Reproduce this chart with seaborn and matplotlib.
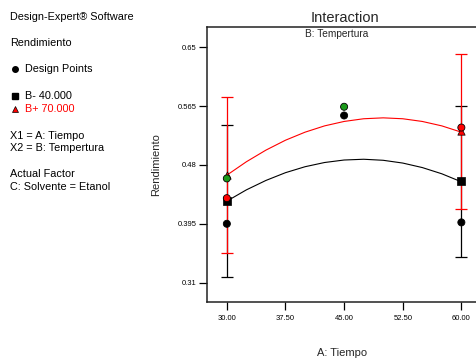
import numpy as np
import pandas as pd
import matplotlib
matplotlib.use("Agg")
import matplotlib.pyplot as plt
import seaborn as sns

# -----------------------------------
# Data
# -----------------------------------
x_ticks = [30.00, 37.50, 45.00, 52.50, 60.00]
y_ticks = [0.31, 0.395, 0.48, 0.565, 0.65]

# model lines for B- (40) and B+ (70)
curve_x = [30.0, 32.5, 35.0, 37.5, 40.0, 42.5, 45.0, 47.5, 50.0, 52.5, 55.0, 57.5, 60.0]
curve_low = [0.4277, 0.4440, 0.4576, 0.4688, 0.4774, 0.4835, 0.4871,
             0.4882, 0.4867, 0.4827, 0.4762, 0.4672, 0.4556]
curve_high = [0.4652, 0.4846, 0.5014, 0.5157, 0.5273, 0.5364, 0.5428,
              0.5467, 0.5480, 0.5467, 0.5428, 0.5364, 0.5273]

# LSD bars at the ends
bar_x = [30.0, 60.0]
low_mean = [0.4277, 0.4566]
low_lo = [0.3178, 0.3466]
low_hi = [0.5376, 0.5650]
high_mean = [0.4652, 0.5284]
high_lo = [0.3528, 0.4158]
high_hi = [0.5784, 0.6408]

# design points
pt_x = [30.0, 45.0, 60.0, 30.0, 60.0, 30.0, 45.0]
pt_y = [0.395, 0.5514, 0.397, 0.432, 0.534, 0.4605, 0.564]
pt_group = ["black", "black", "black", "red", "red", "green", "green"]

# -----------------------------------
# Plot Style
# -----------------------------------
sns.set_style("white")
plt.rcParams["font.family"] = ["Liberation Sans", "DejaVu Sans"]

fig = plt.figure(figsize=(4.77, 3.61), dpi=100)
ax = fig.add_axes([0.4346, 0.1634, 0.5654, 0.761])

lines = pd.DataFrame({
    "A": curve_x * 2,
    "y": curve_low + curve_high,
    "B": ["B-"] * len(curve_x) + ["B+"] * len(curve_x),
})

# error bars (black first, red on top)
ax.errorbar(bar_x, low_mean,
            yerr=[np.subtract(low_mean, low_lo), np.subtract(low_hi, low_mean)],
            fmt="none", ecolor="black", elinewidth=0.9, capsize=4.3, capthick=0.9, zorder=2)
ax.errorbar(bar_x, high_mean,
            yerr=[np.subtract(high_mean, high_lo), np.subtract(high_hi, high_mean)],
            fmt="none", ecolor="red", elinewidth=0.9, capsize=4.3, capthick=0.9, zorder=3)

sns.lineplot(data=lines, x="A", y="y", hue="B", palette={"B-": "black", "B+": "red"},
             linewidth=0.8, legend=False, ax=ax, zorder=4)

# means at the ends
sns.scatterplot(x=bar_x, y=low_mean, marker="s", color="black", s=28,
                edgecolor="black", linewidth=0.5, ax=ax, zorder=5)
sns.scatterplot(x=bar_x, y=high_mean, marker="^", color="red", s=28,
                edgecolor="black", linewidth=0.5, ax=ax, zorder=5)

pts = pd.DataFrame({"A": pt_x, "y": pt_y, "g": pt_group})
sns.scatterplot(data=pts, x="A", y="y", hue="g",
                palette={"black": "black", "red": "red", "green": "#1a9a1a"},
                s=26, edgecolor="black", linewidth=0.6, legend=False, ax=ax, zorder=6)

ax.set_xlim(27.5, 62.0)
ax.set_ylim(0.282, 0.6788)
ax.set_xticks(x_ticks)
ax.set_xticklabels([f"{v:.2f}" for v in x_ticks])
ax.set_yticks(y_ticks)
ax.set_yticklabels([f"{v:g}" for v in y_ticks])
ax.tick_params(axis="both", direction="out", length=5.5, width=0.9, labelsize=5.5,
               pad=2, left=True, bottom=True, colors="black")
ax.tick_params(axis="x", pad=4)
ax.set_xlabel("")
ax.set_ylabel("")
for side in ["left", "bottom", "top"]:
    ax.spines[side].set_linewidth(1.1)
    ax.spines[side].set_color("#222222")
ax.spines["right"].set_visible(False)

# titles and axis labels
fig.text(345 / 477, 1 - 18 / 361, "Interaction", fontsize=10.5, ha="center", va="center")
fig.text(337 / 477, 1 - 34 / 361, "B: Tempertura", fontsize=7.3, ha="center", va="center")
fig.text(342 / 477, 1 - 353 / 361, "A: Tiempo", fontsize=8, ha="center", va="center")
fig.text(155.7 / 477, 1 - 164.5 / 361, "Rendimiento", fontsize=8, rotation=90,
         ha="center", va="center")

# left-hand information panel
info = [
    (16.7, 10, "Design-Expert® Software", "black"),
    (43.3, 10, "Rendimiento", "black"),
    (69.3, 25, "Design Points", "black"),
    (96.3, 25, "B- 40.000", "black"),
    (109.3, 25, "B+ 70.000", "red"),
    (135.7, 10, "X1 = A: Tiempo", "black"),
    (148.3, 10, "X2 = B: Tempertura", "black"),
    (174.0, 10, "Actual Factor", "black"),
    (186.7, 10, "C: Solvente = Etanol", "black"),
]
for ypx, xpx, txt, col in info:
    fig.text(xpx / 477, 1 - ypx / 361, txt, fontsize=7.8, color=col, ha="left", va="center")

fig.lines.append(plt.Line2D([14.7 / 477], [1 - 68.5 / 361], marker="o", color="black",
                            markersize=4, transform=fig.transFigure))
fig.lines.append(plt.Line2D([14.7 / 477], [1 - 95.5 / 361], marker="s", color="black",
                            markersize=4, transform=fig.transFigure))
fig.lines.append(plt.Line2D([14.7 / 477], [1 - 108.5 / 361], marker="^", markerfacecolor="red",
                            markeredgecolor="black", markeredgewidth=0.5, markersize=4.5,
                            transform=fig.transFigure))

fig.savefig("out.png", dpi=100)
plt.close(fig)
